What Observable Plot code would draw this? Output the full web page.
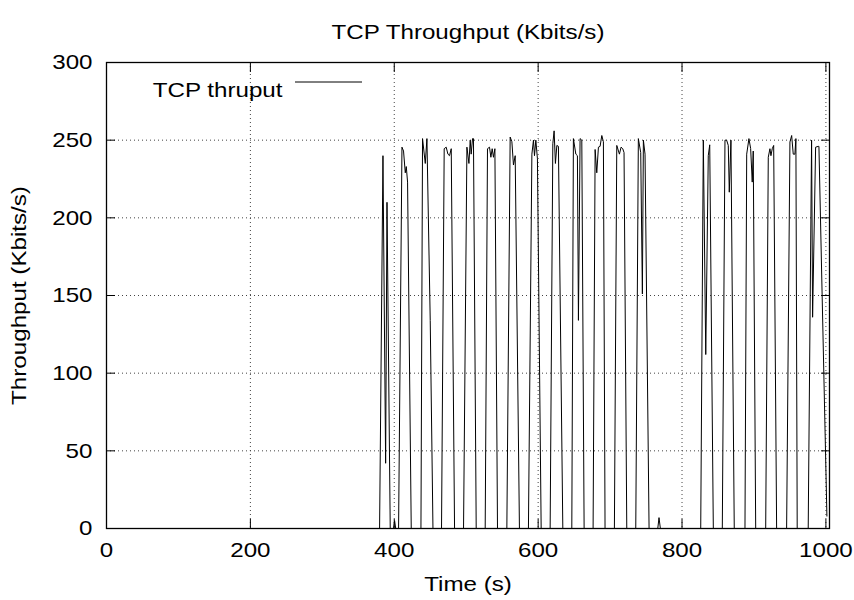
<!DOCTYPE html>
<html>
<head>
<meta charset="utf-8">
<script src="https://cdn.jsdelivr.net/npm/d3@7"></script>
<script src="https://cdn.jsdelivr.net/npm/@observablehq/plot@0.6"></script>
<style>
  html, body { margin: 0; padding: 0; background: #fff; }
  #chart svg { display: block; }
</style>
</head>
<body>
<div id="chart"></div>
<script>
// Time (s) samples and TCP throughput (Kbits/s)
const time = [
  0, 379.6, 384.3, 388.0, 389.9, 394.4, 399, 400.5, 402,
  406.0, 410.7, 412.9, 415.3, 416.7, 418.5, 423.6,
  437.1, 439.3, 443.1, 445.4, 450, 453.8,
  465.7, 469.4, 472.2, 474.6, 476.8, 479.2, 483.8,
  496.3, 501, 503.8, 505.6, 506.9, 508.8, 510.1, 513.9,
  526.4, 529.6, 532.4, 534.3, 536.1, 537.9, 539.9, 543.5,
  556.5, 561.1, 563.5, 565.7, 568.1, 574,
  586.5, 591.3, 593.5, 594.9, 596.8, 599, 604.2,
  616.7, 620.4, 622.2, 624, 626, 628.2, 634.3,
  646.8, 649, 652.4, 654.6, 656, 658.3, 660.7, 663.9,
  676.4, 679.2, 681.5, 683.8, 686.1, 688.5, 690.7, 693,
  706, 709.3, 713, 715.3, 717.6, 719.4, 723.2,
  735.7, 739.3, 742.6, 744.9, 746.3, 748.6, 754.2,
  766.3, 768, 769.9,
  826, 829.6, 833, 836.5, 838.5, 843.5,
  856, 859.7, 862, 864.3, 865.7, 868, 872.6,
  887.5, 889.9, 893, 895.4, 897.6, 899, 902.4,
  916.3, 919.9, 922.2, 923.6, 925.4, 927.4, 931.5,
  945.4, 950, 952.4, 954.6, 956.9, 958.3, 960.1,
  975.4, 980.1, 981.5, 985.7, 989.3, 990.3, 1001.4
];
const thruput = [
  0, 0, 240, 42, 210, 0, 0, 5, 0,
  0, 245.5, 243, 229, 233, 223, 0,
  0, 251, 235, 251, 134, 0,
  0, 244.5, 245.5, 241, 240, 244.5, 0,
  0, 245.5, 235, 250, 241, 251, 251, 0,
  0, 244.5, 245.5, 239, 244.5, 239, 244.5, 0,
  0, 252, 249, 234, 240, 0,
  0, 241, 250, 240, 250, 238, 0,
  0, 247.7, 256, 235, 246.6, 246, 0,
  0, 251, 241, 240, 134, 251, 250, 0,
  0, 244, 229, 245.5, 246, 253, 249, 0,
  0, 246.6, 241, 245.5, 244.5, 242, 0,
  0, 251, 242, 151, 250, 241, 0,
  0, 7, 0,
  0, 250, 112, 240, 247, 0,
  0, 250, 250, 246.6, 216.5, 250, 0,
  0, 241, 251, 244.6, 223, 243, 0,
  0, 239, 244.5, 240, 244.5, 246.6, 0,
  0, 248.8, 253, 241, 241, 251, 0,
  0, 250, 136, 245.5, 246, 246, 8
];
const xTicks = [0, 200, 400, 600, 800, 1000];
const yTicks = [0, 50, 100, 150, 200, 250, 300];
const titleText = "TCP Throughput (Kbits/s)";
const xLabel = "Time (s)";
const yLabel = "Throughput (Kbits/s)";
const seriesName = "TCP thruput";

const data = time.map((t, i) => ({t, v: thruput[i]}));

const W = 854, H = 600;
const M = {top: 62, right: 25, bottom: 72, left: 106};
const font = "Liberation Sans, Arial, Helvetica, sans-serif";
const FS = 21;

const chart = Plot.plot({
  width: W,
  height: H,
  marginTop: M.top,
  marginRight: M.right,
  marginBottom: M.bottom,
  marginLeft: M.left,
  style: {fontFamily: font, fontSize: FS + "px", background: "#fff", color: "#000"},
  x: {domain: [0, 1005], ticks: xTicks},
  y: {domain: [0, 300], ticks: yTicks},
  marks: [
    Plot.gridX(xTicks, {stroke: "#444", strokeOpacity: 1, strokeDasharray: "1,3", strokeWidth: 1}),
    Plot.gridY(yTicks, {stroke: "#444", strokeOpacity: 1, strokeDasharray: "1,3", strokeWidth: 1}),
    Plot.axisX(xTicks, {anchor: "bottom", tickSize: 0, tickPadding: 14, fontSize: FS, tickFormat: d3.format("d"), label: xLabel, labelAnchor: "center", labelArrow: "none", labelOffset: 62}),
    Plot.axisX(xTicks, {anchor: "bottom", tickSize: -9, text: null, label: null}),
    Plot.axisX(xTicks, {anchor: "top", tickSize: -9, text: null, label: null}),
    Plot.axisY(yTicks, {anchor: "left", tickSize: 0, tickPadding: 14, fontSize: FS, tickFormat: d3.format("d"), label: yLabel, labelAnchor: "center", labelArrow: "none", labelOffset: 95}),
    Plot.axisY(yTicks, {anchor: "left", tickSize: -9, text: null, label: null}),
    Plot.axisY(yTicks, {anchor: "right", tickSize: -9, text: null, label: null}),
    Plot.line(data, {x: "t", y: "v", stroke: "#000", strokeWidth: 1, curve: "linear"}),
    Plot.frame({stroke: "#000", strokeWidth: 1.3}),
    Plot.text([titleText], {frameAnchor: "top", dy: -38, fontSize: FS, fill: "#000"}),
    Plot.text([seriesName], {frameAnchor: "top-left", dx: 176, dy: 20, textAnchor: "end", fontSize: FS, fill: "#000"})
  ]
});

// legend sample line next to the series name
const svg = d3.select(chart);
svg.append("line")
  .attr("x1", M.left + 189).attr("x2", M.left + 256)
  .attr("y1", M.top + 20).attr("y2", M.top + 20)
  .attr("stroke", "#000").attr("stroke-width", 1);

document.getElementById("chart").appendChild(chart);

// the reference glyphs are wider than Liberation Sans: stretch each label horizontally
const STRETCH = 1.15;
chart.querySelectorAll("text").forEach(el => {
  const len = el.getComputedTextLength();
  if (len > 0) {
    el.setAttribute("textLength", (len * STRETCH).toFixed(1));
    el.setAttribute("lengthAdjust", "spacingAndGlyphs");
  }
});
</script>
</body>
</html>
